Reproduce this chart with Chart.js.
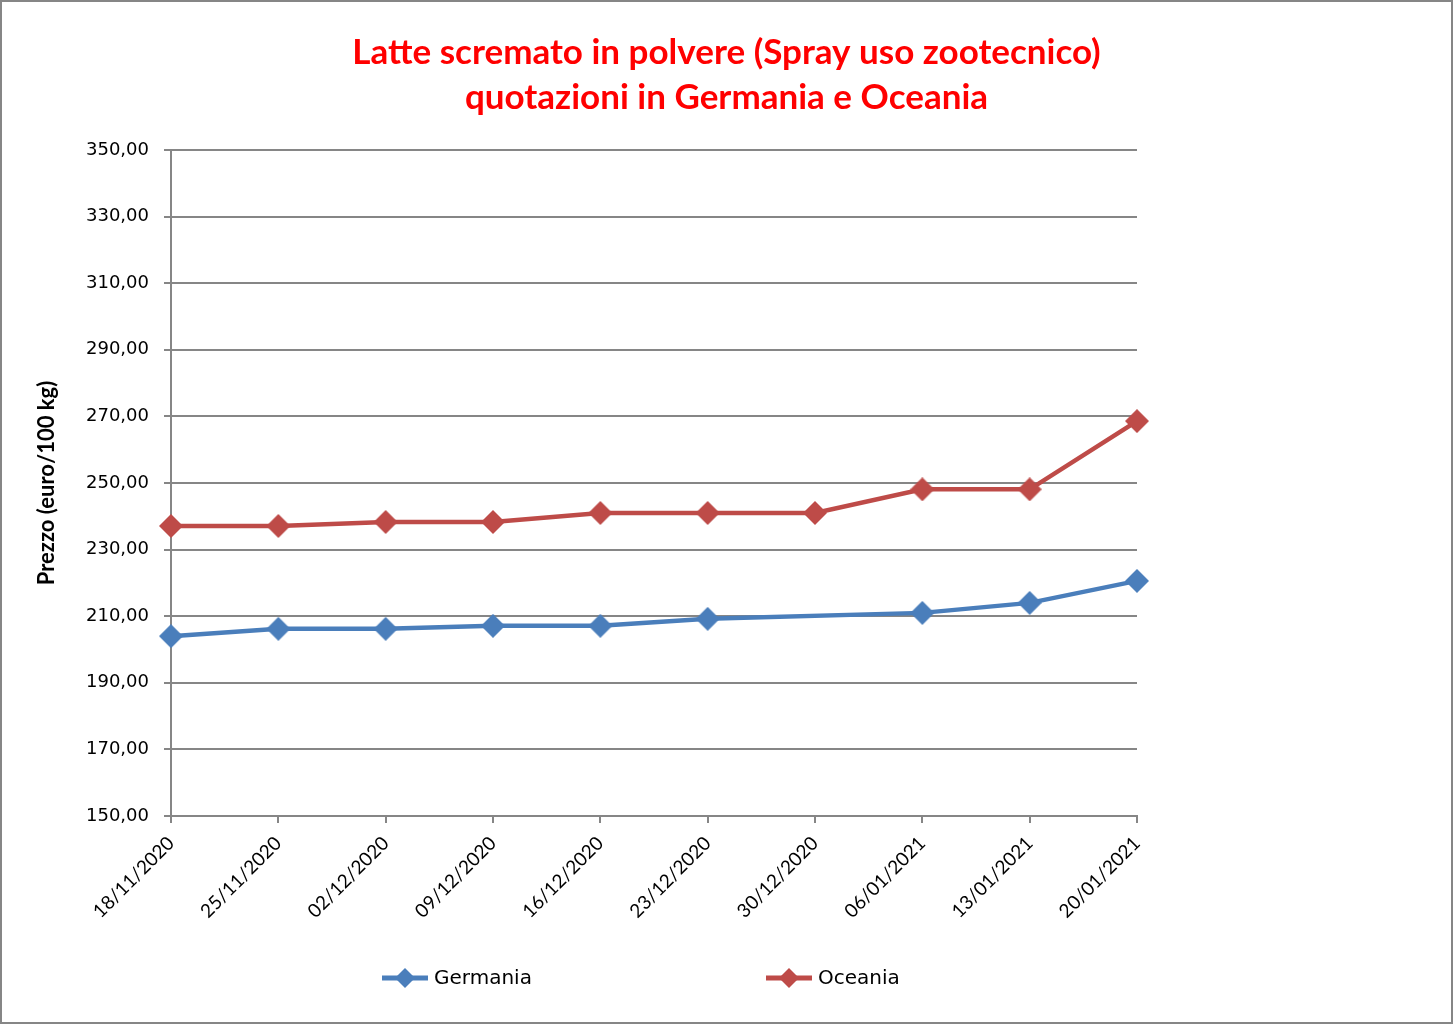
<!DOCTYPE html>
<html>
<head>
<meta charset="utf-8">
<script src="https://cdn.jsdelivr.net/npm/chart.js@4"></script>
<style>
html,body{margin:0;padding:0;background:#fff;}
#wrap{width:1453px;height:1024px;position:relative;}
</style>
</head>
<body>
<div id="wrap"><canvas id="c" width="1453" height="1024"></canvas></div>
<script>
const categories = ["18/11/2020","25/11/2020","02/12/2020","09/12/2020","16/12/2020","23/12/2020","30/12/2020","06/01/2021","13/01/2021","20/01/2021"];
const germania = [204.0, 206.2, 206.2, 207.1, 207.1, 209.2, null, 211.0, 214.0, 220.6];
const oceania  = [237.1, 237.1, 238.3, 238.3, 241.0, 241.0, 241.0, 248.1, 248.1, 268.6];
const seriesNames = ["Germania", "Oceania"];
const yTicks = [150,170,190,210,230,250,270,290,310,330,350];
const titleLines = ["Latte scremato in polvere (Spray uso zootecnico)", "quotazioni in Germania e Oceania"];
const yTitle = "Prezzo (euro/100 kg)";

const BLUE = "#4A7EBB", RED = "#BE4B48", GRID = "#868686";

function diamond(color){
  const cv = document.createElement('canvas');
  cv.width = 24; cv.height = 24;
  const g = cv.getContext('2d');
  g.fillStyle = color;
  g.beginPath();
  g.moveTo(12,0); g.lineTo(24,12); g.lineTo(12,24); g.lineTo(0,12); g.closePath();
  g.fill();
  return cv;
}

const frame = {
  id:'frame',
  afterDraw(chart){
    const ctx = chart.ctx;
    ctx.save();
    ctx.strokeStyle = GRID; ctx.lineWidth = 2;
    ctx.strokeRect(1,1,chart.width-2,chart.height-2);
    ctx.restore();
  }
};

const customLegend = {
  id:'customLegend',
  afterDraw(chart){
    const ctx = chart.ctx;
    const starts = [382, 766];
    const y = 978;
    ctx.save();
    chart.data.datasets.forEach((ds,i)=>{
      const x = starts[i];
      ctx.strokeStyle = ds.borderColor; ctx.lineWidth = 5;
      ctx.beginPath(); ctx.moveTo(x, y); ctx.lineTo(x+46, y); ctx.stroke();
      ctx.fillStyle = ds.borderColor;
      ctx.beginPath();
      ctx.moveTo(x+23, y-10); ctx.lineTo(x+33, y); ctx.lineTo(x+23, y+10); ctx.lineTo(x+13, y); ctx.closePath(); ctx.fill();
      ctx.fillStyle = '#000';
      ctx.font = '20px "DejaVu Sans"';
      ctx.textBaseline = 'middle';
      ctx.textAlign = 'left';
      ctx.fillText(ds.label, x+52, y+1);
    });
    ctx.restore();
  }
};

new Chart(document.getElementById('c'), {
  type:'line',
  data:{
    labels: categories,
    datasets:[
      {label: seriesNames[0], data: germania, borderColor: BLUE, backgroundColor: BLUE, borderWidth: 4.5,
       pointStyle: diamond(BLUE), pointRadius: 12, pointHoverRadius: 12, spanGaps: true, tension: 0},
      {label: seriesNames[1], data: oceania, borderColor: RED, backgroundColor: RED, borderWidth: 4.5,
       pointStyle: diamond(RED), pointRadius: 12, pointHoverRadius: 12, spanGaps: true, tension: 0}
    ]
  },
  options:{
    responsive:false,
    animation:false,
    events: [],
    clip: false,
    layout:{padding:{left:0, right:0, top:0, bottom:0}},
    plugins:{
      legend:{display:false},
      tooltip:{enabled:false},
      title:{
        display:true,
        text: titleLines,
        color:'#FF0000',
        font:{family:'Lato, "Open Sans", sans-serif', size:35, weight:'bold', lineHeight:1.286},
        padding:{top:30, bottom:30}
      }
    },
    scales:{
      x:{
        type:'category',
        offset:false,
        grid:{display:true, drawOnChartArea:false, drawTicks:true, tickLength:7, color:GRID, lineWidth:2},
        border:{display:true, color:GRID, width:2},
        ticks:{color:'#000', font:{family:'Lato, "Open Sans", sans-serif', size:19}, maxRotation:45, minRotation:45, padding:9, autoSkip:false},
        afterFit(s){ s.height = 208; }
      },
      y:{
        min:150, max:350,
        afterBuildTicks(s){ s.ticks = yTicks.map(v=>({value:v})); },
        grid:{color:GRID, lineWidth:2, tickLength:7, drawTicks:true},
        border:{display:true, color:GRID, width:2},
        ticks:{color:'#000', font:{family:'"DejaVu Sans", Verdana, sans-serif', size:18}, padding:15,
          callback:(v)=>Number(v).toFixed(2).replace('.', ',')},
        title:{display:true, text:yTitle, color:'#000', font:{family:'Lato, "Open Sans", sans-serif', size:22, weight:'bold'}, padding:{top:34}},
        afterFit(s){ s.width = 171; }
      },
      yRight:{
        position:'right',
        display:true,
        min:150, max:350,
        grid:{display:false, drawOnChartArea:false},
        border:{display:false},
        ticks:{display:false},
        afterFit(s){ s.width = 316; }
      }
    }
  },
  plugins:[frame, customLegend]
});
</script>
</body>
</html>
